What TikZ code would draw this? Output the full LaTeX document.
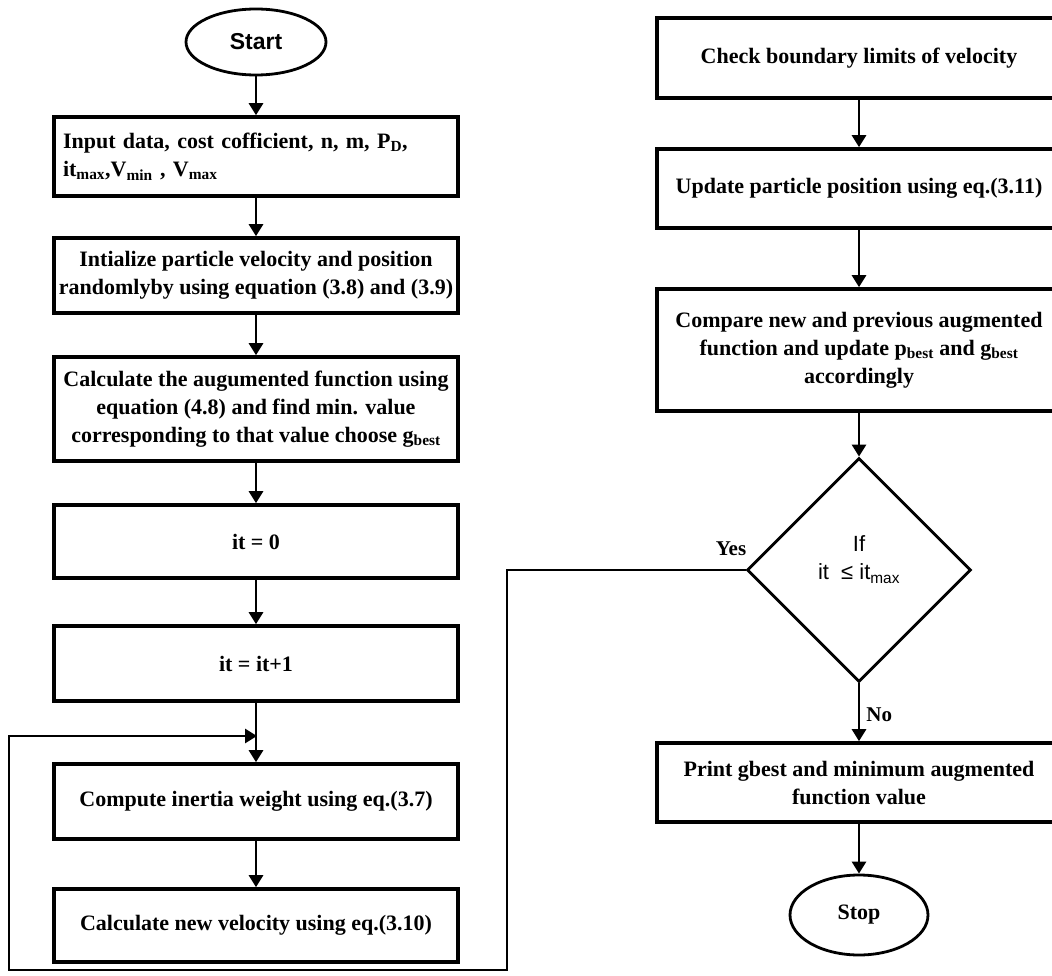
\documentclass[tikz,border=0pt]{standalone}
\usepackage{fontspec}
\setmainfont{Liberation Serif}
\newfontfamily\arialf{Liberation Sans}
\usetikzlibrary{arrows.meta,shapes.geometric}
\newcommand{\sbx}[1]{\textsubscript{#1}}
\tikzset{
  procbox/.style={draw, line width=3.6pt, rectangle, minimum width=404pt, inner sep=0pt, align=center, font=\fontsize{22}{28}\selectfont\bfseries},
  term/.style={draw, line width=2.8pt, ellipse, inner sep=0pt},
  decis/.style={draw, line width=2.8pt, diamond, minimum width=224pt, minimum height=224pt, inner sep=0pt, align=center, font=\arialf\fontsize{22}{30}\selectfont},
  flow/.style={line width=2.8pt, -{Triangle[width=14pt,length=12pt]}},
  lbl/.style={font=\fontsize{21}{24}\selectfont\bfseries, inner sep=0pt}
}
\begin{document}
\begin{tikzpicture}[x=1pt,y=-1pt]
\useasboundingbox (0,0) rectangle (1052,976);
\clip (0,0) rectangle (1052,976);
\fill[white] (0,0) rectangle (1052,976);
% left column
\node[term, minimum width=140pt, minimum height=66pt, font=\arialf\fontsize{23}{26}\selectfont\bfseries] (start) at (256,42) {Start};
\node[procbox, minimum height=79pt, text width=386pt, inner xsep=9pt, align=left] (in) at (256,156.5) {Input data, cost cofficient, n, m, P\sbx{D},\\it\sbx{max},V\sbx{min} , V\sbx{max}};
\node[procbox, minimum height=75pt] (init) at (256,275.5) {Intialize particle velocity and position\\randomlyby using equation (3.8) and (3.9)};
\node[procbox, minimum height=104pt] (calc) at (256,409) {Calculate the augumented function using\\equation (4.8) and find min. value\\corresponding to that value choose g\sbx{best}};
\node[procbox, minimum height=73pt] (itz) at (256,541.5) {it = 0};
\node[procbox, minimum height=75pt] (itinc) at (256,663.5) {it = it+1};
\node[procbox, minimum height=75pt] (inert) at (256,801.5) {Compute inertia weight using eq.(3.7)};
\node[procbox, minimum height=73pt] (vel) at (256,925.5) {Calculate new velocity using eq.(3.10)};
% right column
\node[procbox, minimum height=80pt] (chk) at (859,58) {Check boundary limits of velocity};
\node[procbox, minimum height=79pt] (upd) at (859,188.5) {Update particle position using eq.(3.11)};
\node[procbox, minimum height=122pt] (cmp) at (859,350) {Compare new and previous augmented\\function and update p\sbx{best} and g\sbx{best}\\accordingly};
\node[decis] (dec) at (859,570) {If\\[-2pt]it\ \ ≤ it\sbx{max}\\[-6pt]\mbox{}};
\node[procbox, minimum height=79pt] (prt) at (859,782.5) {Print gbest and minimum augmented\\function value};
\node[term, minimum width=138pt, minimum height=80pt, font=\fontsize{22}{26}\selectfont\bfseries] (stop) at (859,915) {Stop};
% connectors
\draw[flow] (start) -- (in);
\draw[flow] (in) -- (init);
\draw[flow] (init) -- (calc);
\draw[flow] (calc) -- (itz);
\draw[flow] (itz) -- (itinc);
\draw[flow] (itinc) -- (inert);
\draw[flow] (inert) -- (vel);
\draw[flow] (chk) -- (upd);
\draw[flow] (upd) -- (cmp);
\draw[flow] (cmp) -- (dec);
\draw[flow] (dec) -- node[lbl, right=6pt, pos=0.55] (nolbl) {No} (prt);
\draw[flow] (prt) -- (stop);
% loop back
\coordinate (j) at (257,736);
\coordinate (c1) at (507,970);
\coordinate (c2) at (9,736);
\draw[flow] (dec.west) -| (c1) -| (c2) -- (j);
\node[lbl] (yes) at (731,549) {Yes};
\end{tikzpicture}
\end{document}
